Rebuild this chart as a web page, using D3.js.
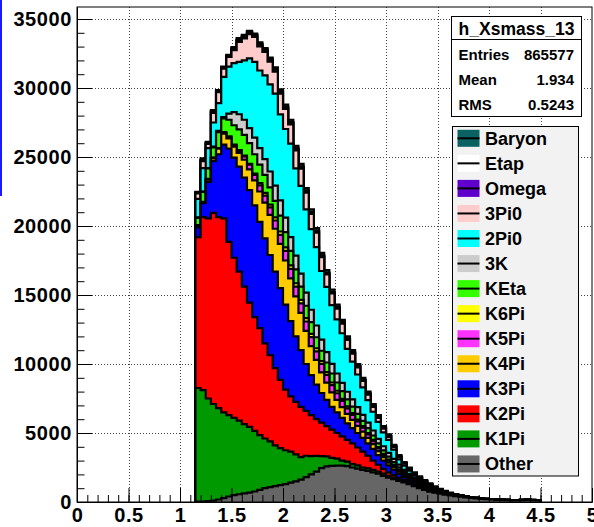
<!DOCTYPE html>
<meta charset="utf-8">
<script src="https://d3js.org/d3.v7.min.js"></script>
<style>
  body { margin: 0; background: #fff; }
  svg text { font-family: "Liberation Sans", Arial, Helvetica, sans-serif; font-weight: bold; }
</style>
<div id="chart"></div>
<script>
// bins of 0.05 starting at 1.15
const binStart = 1.15, binWidth = 0.05;

const other = [30,30,60,100,180,280,400,500,560,620,680,760, 880,1000,1080,1150,1230,1300,1400,1500,1620,1800,2000,2200, 2450,2580,2620,2640,2640,2600,2500,2420,2330,2250,2150,2050, 1900,1760,1650,1530,1420,1300,1150,1000,870,750,680,600, 530,470,420,380,330,290,260,230,200,180,160,145, 135,125,118,135,155,130,110];
const k1pi = [8230,8070,7440,7000,6620,6220,5900,5600,5340,5030,4770,4390, 3970,3600,3320,2950,2670,2450,2250,1950,1630,1550,1330,1140, 870,720,580,510,360,320,250,230,170,190,180,150, 150,140,110,90,70,60,50,40,30,25,20,10, 8,6,5,4,3,2,2,1,1,1,1,1, 1,1,1,1,1,1,1];
const k2pi = [10940,12550,13050,13850,13850,14050,12550,11600,10800,9950,9000,8250, 7750,6900,6250,5600,4950,4400,4000,3800,3650,3250,2970,2660, 2430,2200,2050,1850,1750,1580,1500,1300,1150,910,670,500, 350,250,190,130,90,60,50,50,50,45,30,25, 20,15,11,9,7,5,4,3,3,2,2,2, 2,1,1,1,2,1,1];
const k3pi = [700,1000,2650,3750,4550,5350,6750,7250,7600,7900,8150,8100, 7700,7600,7250,7000,6650,6150,5450,4750,4100,3400,2900,2500, 2150,1900,1650,1500,1350,1200,1100,1050,1000,900,850,700, 600,500,400,300,220,180,150,140,110,90,70,50, 40,30,22,18,14,10,8,6,5,4,4,3, 3,3,3,3,3,3,2];
const k4pi = [100,50,150,200,400,800,750,800,1000,1300,1500,1800, 2200,2600,2900,3100,3200,3200,3100,2900,2700,2400,2100,1800, 1500,1250,1050,900,780,680,600,520,450,390,340,290, 250,210,180,150,120,100,85,70,60,50,40,30, 24,18,14,11,8,6,5,4,3,3,2,2, 2,2,2,2,2,2,1];
const k5pi = [40,30,40,30,30,50,100,100,150,250,350,400, 450,500,550,600,650,700,700,700,700,680,650,620, 600,560,520,480,440,400,360,320,280,250,220,190, 160,140,120,100,85,70,60,50,40,30,25,20, 16,12,9,7,5,4,3,2,2,2,1,1, 1,1,1,1,1,1,1];
const k6pi = [30,20,30,20,20,50,50,50,50,50,50,100, 150,200,200,220,250,250,250,250,250,240,230,220, 210,200,190,180,160,150,140,130,120,110,100,90, 80,70,60,50,40,35,30,25,20,15,12,10, 8,6,5,4,3,2,2,1,1,1,1,1, 1,0,0,0,1,0,0];
const keta = [520,720,750,750,1150,1000,1200,1400,1500,1500,1500,1400, 1350,1300,1250,1200,1150,1100,1050,1000,950,900,850,800, 750,700,650,600,550,500,460,420,380,350,310,280, 250,220,190,160,130,110,95,80,70,60,45,35, 28,21,16,12,9,7,5,4,4,3,3,2, 2,2,2,2,2,2,2];
const k3k = [30,30,30,50,100,100,450,950,1100,1100,1100,1200, 1200,1150,1150,1100,1100,1050,1000,1000,950,950,900,850, 800,750,700,650,600,560,520,480,440,400,360,330, 300,270,230,200,160,130,110,90,75,60,45,35, 28,21,16,12,9,7,5,4,4,3,3,2, 2,2,2,2,2,2,2];
const pi2 = [1350,1700,1450,1750,2000,2900,3400,3550,3800,4300,5050,5500, 5620,6070,6310,6670,6240,6430,6770,6320,6360,6040,5840,5680, 4980,4730,4250,3920,3600,3110,2740,2370,1990,1630,1360,1220, 1010,940,670,380,305,225,170,130,105,90,58,45, 36,27,20,16,12,9,7,5,5,4,4,3, 3,3,3,3,3,3,2];
const pi3 = [400,500,300,700,800,600,700,950,1450,1600,1750,1800, 1750,1700,1650,1600,1500,1450,1400,1300,1250,1200,1100,1050, 1000,900,850,780,700,640,580,520,460,400,350,300, 260,220,190,160,130,110,90,70,55,45,35,25, 20,15,11,9,7,5,4,3,3,2,2,2, 2,1,1,1,2,1,1];
const omega = [50,80,60,90,80,80,80,120,130,130,130,130, 150,150,150,150,150,140,140,130,130,130,120,120, 110,110,100,100,90,90,80,80,70,70,60,60, 50,50,40,40,30,30,25,25,20,20,15,12, 10,7,5,4,3,2,2,1,1,1,1,1, 1,1,1,1,1,1,1];
const etap = [10,10,10,10,10,10,10,10,10,10,10,10, 10,10,10,10,10,10,10,10,10,10,10,10, 10,10,10,10,10,10,10,10,10,10,10,10, 10,10,10,10,10,10,10,10,10,10,5,5, 4,3,2,2,1,1,1,1,0,0,0,0, 0,0,0,0,0,0,0];
const baryon = [40,110,80,100,60,60,60,90,130,110,110,110, 120,120,130,150,150,170,180,190,200,200,200,200, 190,190,180,180,170,160,160,150,150,140,140,130, 130,120,110,100,90,80,75,70,65,60,50,45, 36,27,20,16,12,9,7,5,5,4,4,3, 3,3,3,3,3,3,2];

// stacking order, bottom first
const keys = ["Other","K1Pi","K2Pi","K3Pi","K4Pi","K5Pi","K6Pi","KEta","3K","2Pi0","3Pi0","Omega","Etap","Baryon"];
const series = [other,k1pi,k2pi,k3pi,k4pi,k5pi,k6pi,keta,k3k,pi2,pi3,omega,etap,baryon];
const colors = ["#666666","#009900","#ff0000","#0000ff","#ffcc00","#ff33ff","#ffff00","#33ff00","#cccccc","#00ffff","#ffcccc","#6000cc","#ffffff","#0b6262"];

const yTicks = [0,5000,10000,15000,20000,25000,30000,35000];
const xTicks = [0,0.5,1,1.5,2,2.5,3,3.5,4,4.5,5];

const stats = [["Entries","865577"],["Mean","1.934"],["RMS","0.5243"]];

const rows = other.map((_, i) => {
  const r = {};
  keys.forEach((k, j) => r[k] = series[j][i]);
  return r;
});
const stacked = d3.stack().keys(keys)(rows);

const W = 594, H = 527;
const svg = d3.select("#chart").append("svg").attr("width", W).attr("height", H);

const x = d3.scaleLinear().domain([0, 5]).range([77, 592]);
const y = d3.scaleLinear().domain([0, 35870]).range([502, 7]);

// left blue edge artifact
svg.append("rect").attr("x", 0).attr("y", 0).attr("width", 2).attr("height", 196).attr("fill", "#1a1aff");

// grid
const grid = svg.append("g").attr("stroke", "#444").attr("stroke-width", 1).attr("stroke-dasharray", "1,2");
xTicks.filter(d => d > 0 && d < 5).forEach(d => {
  grid.append("line").attr("x1", Math.round(x(d)) + 0.5).attr("x2", Math.round(x(d)) + 0.5).attr("y1", 7).attr("y2", 502);
});
yTicks.filter(d => d > 0).forEach(d => {
  grid.append("line").attr("x1", 77).attr("x2", 592).attr("y1", Math.round(y(d)) + 0.5).attr("y2", Math.round(y(d)) + 0.5);
});

// histogram layers, drawn from the top of the stack down
const n = other.length;
const edge = i => binStart + i * binWidth;
const line = d3.line().x(d => x(d[0])).y(d => y(d[1]));

for (let j = stacked.length - 1; j >= 0; j--) {
  const tops = stacked[j].map(d => d[1]);
  const pts = [[edge(0), 0]];
  for (let i = 0; i < n; i++) {
    pts.push([edge(i), tops[i]]);
    pts.push([edge(i + 1), tops[i]]);
  }
  pts.push([edge(n), 0]);
  svg.append("path").attr("d", line(pts) + "Z").attr("fill", colors[j]).attr("stroke", "none");
  svg.append("path").attr("d", line(pts)).attr("fill", "none")
    .attr("stroke", "#000").attr("stroke-width", 2.2).attr("stroke-linejoin", "miter");
}

// frame
svg.append("rect").attr("x", 77).attr("y", 7).attr("width", 515).attr("height", 495)
  .attr("fill", "none").attr("stroke", "#000").attr("stroke-width", 1);

// axes (ticks pointing inward)
const yAxis = svg.append("g").attr("transform", "translate(77,0)")
  .call(d3.axisLeft(y).tickValues(yTicks).tickSizeInner(-15).tickSizeOuter(0).tickPadding(5).tickFormat(d3.format("d")));
svg.append("g").attr("transform", "translate(77,0)")
  .call(d3.axisLeft(y).tickValues(d3.range(0, 35001, 1000)).tickSizeInner(-7.5).tickSizeOuter(0).tickFormat(""));
const xAxis = svg.append("g").attr("transform", "translate(0,502)")
  .call(d3.axisBottom(x).tickValues(xTicks).tickSizeInner(-14).tickSizeOuter(0).tickPadding(6).tickFormat(d => String(d)));
svg.append("g").attr("transform", "translate(0,502)")
  .call(d3.axisBottom(x).tickValues(d3.range(0, 50).map(i => i / 10)).tickSizeInner(-7).tickSizeOuter(0).tickFormat(""));
svg.selectAll(".tick text").attr("font-size", 20).attr("letter-spacing", "0.6px")
  .attr("font-family", "'Liberation Sans', Arial, sans-serif").attr("font-weight", "bold").attr("fill", "#000");
svg.selectAll(".domain").attr("stroke", "#000");

// stats box
const sb = svg.append("g");
sb.append("rect").attr("x", 451.5).attr("y", 16.5).attr("width", 130).attr("height", 100)
  .attr("fill", "#fff").attr("stroke", "#000").attr("stroke-width", 1);
sb.append("line").attr("x1", 451.5).attr("x2", 581.5).attr("y1", 39.5).attr("y2", 39.5).attr("stroke", "#000");
sb.append("text").attr("x", 516.5).attr("y", 35).attr("text-anchor", "middle").attr("font-size", 17.5).text("h_Xsmass_13");
stats.forEach((s, i) => {
  const by = 60 + i * 25;
  sb.append("text").attr("x", 458.5).attr("y", by).attr("font-size", 15).text(s[0]);
  sb.append("text").attr("x", 574).attr("y", by).attr("text-anchor", "end").attr("font-size", 15).text(s[1]);
});

// legend
const lg = svg.append("g");
lg.append("rect").attr("x", 452.5).attr("y", 126.5).attr("width", 126).attr("height", 349.5)
  .attr("fill", "#f2f2f2").attr("stroke", "#000").attr("stroke-width", 1);
keys.slice().reverse().forEach((k, i) => {
  const j = keys.length - 1 - i;
  const cy = 138.3 + i * 25.05;
  lg.append("rect").attr("x", 457.5).attr("y", cy - 8.5).attr("width", 22).attr("height", 17)
    .attr("fill", colors[j]).attr("stroke", "none");
  lg.append("line").attr("x1", 457.5).attr("x2", 479.5).attr("y1", cy).attr("y2", cy)
    .attr("stroke", "#000").attr("stroke-width", 2);
  lg.append("text").attr("x", 485).attr("y", cy + 6.5).attr("font-size", 18).text(k);
});
</script>
